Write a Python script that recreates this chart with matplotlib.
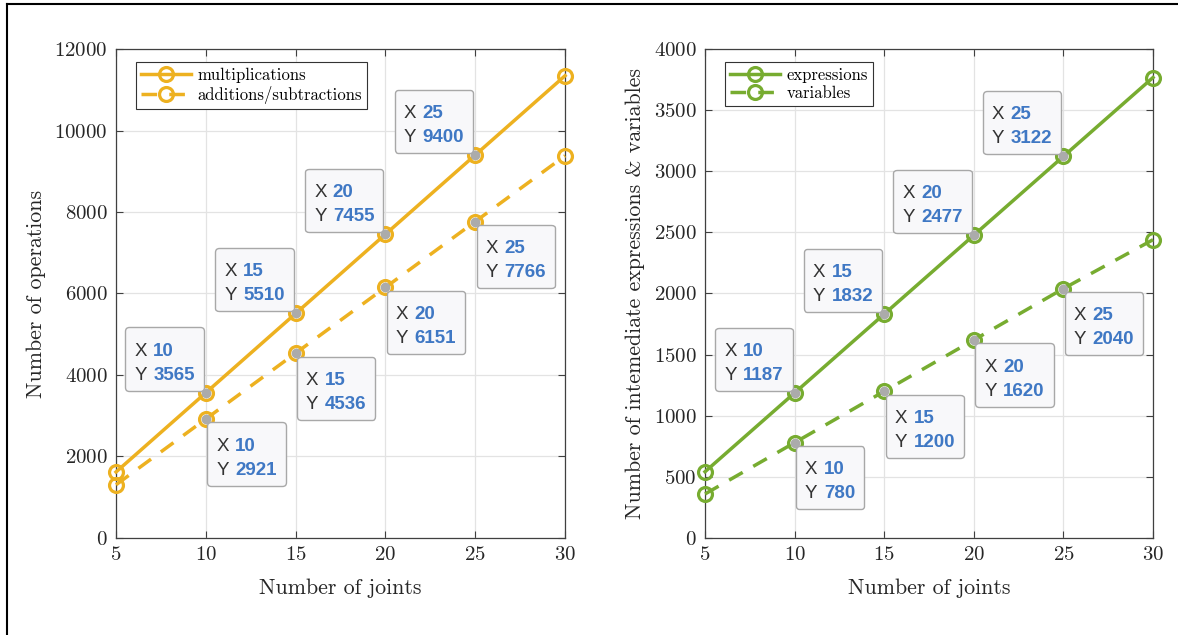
#!/usr/bin/env python3
import numpy as np
import matplotlib
matplotlib.use('Agg')
import matplotlib.pyplot as pl
from matplotlib.lines import Line2D
from matplotlib.offsetbox import (TextArea, HPacker, VPacker, DrawingArea,
                                  AnnotationBbox)

pl.rcParams['font.family'] = 'cmr10'
pl.rcParams['axes.formatter.use_mathtext'] = True

# Operation counts and expression/variable counts versus number of joints
joints = [5, 10, 15, 20, 25, 30]
multiplications = [1620, 3565, 5510, 7455, 9400, 11345]
additions = [1306, 2921, 4536, 6151, 7766, 9381]
expressions = [542, 1187, 1832, 2477, 3122, 3767]
variables = [360, 780, 1200, 1620, 2040, 2440]
tip_joints = [10, 15, 20, 25]

orange = '#EDB120'
green = '#77AC30'
tip_blue = '#3F78C4'
axis_grey = '#404040'


#######################################################
def data_tip(ax, x, y, above):
    # Small "X / Y" box anchored to a data point
    tp = dict(fontfamily='Liberation Sans', fontsize=13.5, color='#333333')
    vp = dict(fontfamily='Liberation Sans', fontsize=13.5, color=tip_blue,
              fontweight='bold')
    row_x = HPacker(children=[TextArea('X', textprops=tp),
                              TextArea(str(x), textprops=vp)],
                    align='baseline', pad=0, sep=4.5)
    row_y = HPacker(children=[TextArea('Y', textprops=tp),
                              TextArea(str(y), textprops=vp)],
                    align='baseline', pad=0, sep=4.5)
    rows = VPacker(children=[DrawingArea(1, 1), row_x, row_y],
                   align='left', pad=0, sep=5)
    box = HPacker(children=[DrawingArea(1.5, 1), rows, DrawingArea(1.5, 1)],
                  align='center', pad=0, sep=0)
    if above:
        xybox, align = (-6.5, 6.5), (1, 0)
    else:
        xybox, align = (6, -7.5), (0, 1)
    ab = AnnotationBbox(box, (x, y), xybox=xybox, xycoords='data',
                        boxcoords='offset points', box_alignment=align,
                        pad=0.55, frameon=True, annotation_clip=False,
                        bboxprops=dict(boxstyle='round,pad=0.5,rounding_size=0.25',
                                       fc='#F8F8FA', ec='#A8A8A8', lw=1.0),
                        zorder=5)
    ax.add_artist(ab)
    ax.plot([x], [y], 'o', color='#ABABAB', markersize=6, zorder=6)


#######################################################
def panel(ax, solid, dashed, color, labels, ylabel, yticks):
    ax.plot(joints, solid, '-o', color=color, lw=2.5, markersize=10,
            mfc='none', mew=2.3, label=labels[0], zorder=3, clip_on=False)
    ax.plot(joints, dashed, '--o', color=color, lw=2.5, markersize=10,
            mfc='none', mew=2.3, dashes=(4.5, 3.5), label=labels[1], zorder=3,
            clip_on=False)
    for j in tip_joints:
        i = joints.index(j)
        data_tip(ax, j, solid[i], True)
        data_tip(ax, j, dashed[i], False)

    ax.set_xlim(5, 30)
    ax.set_ylim(yticks[0], yticks[-1])
    ax.set_xticks(np.arange(5, 31, 5))
    ax.set_yticks(yticks)
    ax.grid(True, color='#E3E3E3', lw=0.9)
    ax.set_axisbelow(True)
    for s in ax.spines.values():
        s.set_color(axis_grey)
        s.set_linewidth(0.9)
    ax.tick_params(direction='in', top=True, right=True, length=5,
                   color=axis_grey, labelcolor='#262626', labelsize=15, pad=6)
    ax.set_xlabel('Number of joints', fontsize=15.8, color='#262626',
                  labelpad=10)
    ax.set_ylabel(ylabel, fontsize=15.8, color='#262626', labelpad=6)
    leg = ax.legend(loc='upper left', fontsize=12, fancybox=False,
                    edgecolor='#333333', framealpha=1, handlelength=3.0,
                    borderpad=0.3, labelspacing=0.2, handletextpad=0.4,
                    bbox_to_anchor=(0.025, 0.99))
    leg.get_frame().set_linewidth(0.8)


#######################################################
def main():
    fig = pl.figure(figsize=(11.78, 6.35), dpi=100)
    ax1 = fig.add_axes([0.0985, 0.1528, 0.3812, 0.770])
    ax2 = fig.add_axes([0.5985, 0.1528, 0.3803, 0.770])

    panel(ax1, multiplications, additions, orange,
          ['multiplications', 'additions/subtractions'],
          'Number of operations', np.arange(0, 12001, 2000))
    panel(ax2, expressions, variables, green,
          ['expressions', 'variables'],
          'Number of intemediate expressions & variables',
          np.arange(0, 4001, 500))

    # frame lines along the top and left edge
    fig.add_artist(Line2D([0.006, 1.0], [0.994, 0.994], color='black', lw=1.5,
                          transform=fig.transFigure))
    fig.add_artist(Line2D([0.006, 0.006], [0.0, 0.994], color='black', lw=1.5,
                          transform=fig.transFigure))

    pl.savefig('out.png', dpi=100)
    pl.close()


if __name__ == '__main__':
    main()
